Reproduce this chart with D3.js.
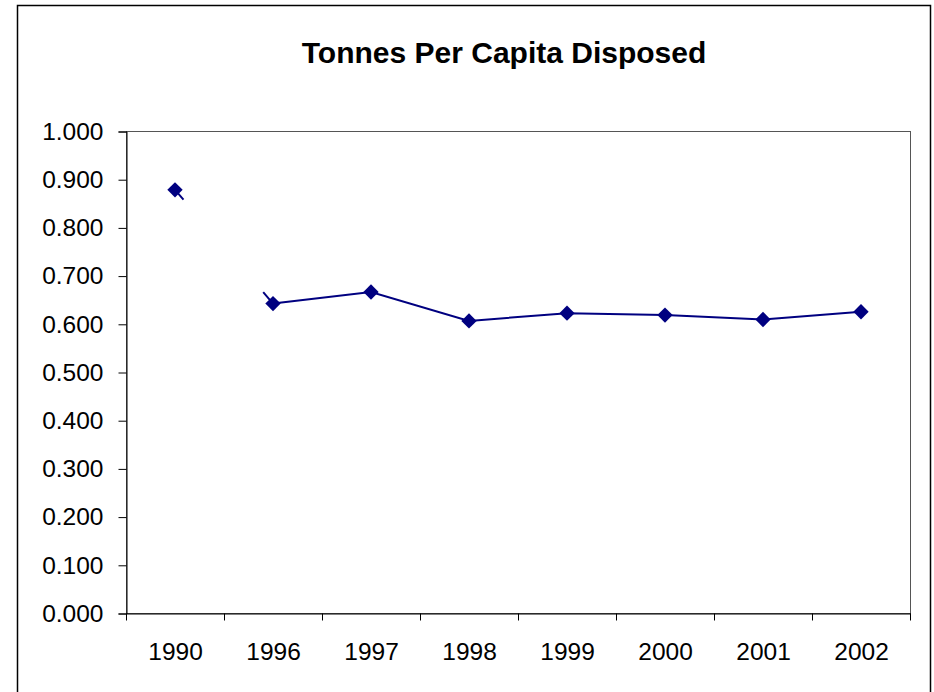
<!DOCTYPE html>
<html>
<head>
<meta charset="utf-8">
<script src="https://cdn.jsdelivr.net/npm/d3@7"></script>
<style>
  body { margin: 0; background: #fff; }
  svg { display: block; font-family: "Liberation Sans", Arial, sans-serif; }
</style>
</head>
<body>
<div id="chart"></div>
<script>
// data
const years = ["1990", "1996", "1997", "1998", "1999", "2000", "2001", "2002"];
const perCapita = [0.878, 0.642, 0.666, 0.606, 0.622, 0.618, 0.609, 0.625];
const yTicks = [0, 0.1, 0.2, 0.3, 0.4, 0.5, 0.6, 0.7, 0.8, 0.9, 1.0];

const width = 934, height = 692;
const plot = { left: 126, top: 131, right: 910, bottom: 613 };

const svg = d3.select("#chart").append("svg")
    .attr("width", width)
    .attr("height", height);

// outer chart border
svg.append("rect")
    .attr("x", 17.5).attr("y", 5.5)
    .attr("width", 930 - 17).attr("height", 700)
    .attr("fill", "#fff")
    .attr("stroke", "#000")
    .attr("stroke-width", 1.5);

svg.append("text")
    .attr("x", 504)
    .attr("y", 63)
    .attr("text-anchor", "middle")
    .attr("font-size", 30)
    .attr("font-weight", "bold")
    .text("Tonnes Per Capita Disposed");

const x = d3.scaleBand()
    .domain(years)
    .range([plot.left, plot.right]);

const y = d3.scaleLinear()
    .domain([0, 1])
    .range([plot.bottom, plot.top]);

// plot area border
svg.append("rect")
    .attr("x", plot.left + 0.5).attr("y", plot.top + 0.5)
    .attr("width", plot.right - plot.left).attr("height", plot.bottom - plot.top)
    .attr("fill", "none")
    .attr("stroke", "#555");

// y axis
const yAxis = svg.append("g")
    .attr("transform", `translate(${plot.left + 0.5},0.5)`)
    .call(d3.axisLeft(y).tickValues(yTicks).tickFormat(d3.format(".3f")).tickSize(8).tickPadding(15));

// x axis, ticks between categories
const xAxis = svg.append("g")
    .attr("transform", `translate(0.5,${plot.bottom + 0.5})`)
    .call(d3.axisBottom(x).tickSize(0).tickPadding(29));

xAxis.selectAll(".bound")
    .data(d3.range(years.length + 1))
    .join("line")
    .attr("class", "bound")
    .attr("x1", i => plot.left + i * x.step())
    .attr("x2", i => plot.left + i * x.step())
    .attr("y1", 0).attr("y2", 7)
    .attr("stroke", "#000");

[yAxis, xAxis].forEach(g => {
    g.select(".domain").attr("stroke", "#000");
    g.selectAll("line").attr("stroke", "#000");
    g.selectAll("text").attr("font-size", 24.5).attr("fill", "#000")
        .style("font-family", "Liberation Sans, Arial, sans-serif");
});

const pts = years.map((d, i) => [x(d) + x.bandwidth() / 2, y(perCapita[i])]);

// first segment is broken in the middle, only stubs near the markers
const first = svg.append("path")
    .attr("d", d3.line()(pts.slice(0, 2)))
    .attr("fill", "none")
    .attr("stroke", "#000080")
    .attr("stroke-width", 2);
const len = first.node().getTotalLength();
first.attr("stroke-dasharray", `13,${len - 28},15`);

svg.append("path")
    .attr("d", d3.line()(pts.slice(1)))
    .attr("fill", "none")
    .attr("stroke", "#000080")
    .attr("stroke-width", 2);

svg.selectAll(".marker")
    .data(pts)
    .join("path")
    .attr("class", "marker")
    .attr("transform", d => `translate(${d[0]},${d[1]})`)
    .attr("d", d3.symbol(d3.symbolDiamond2, 150)())
    .attr("fill", "#000080");
</script>
</body>
</html>
